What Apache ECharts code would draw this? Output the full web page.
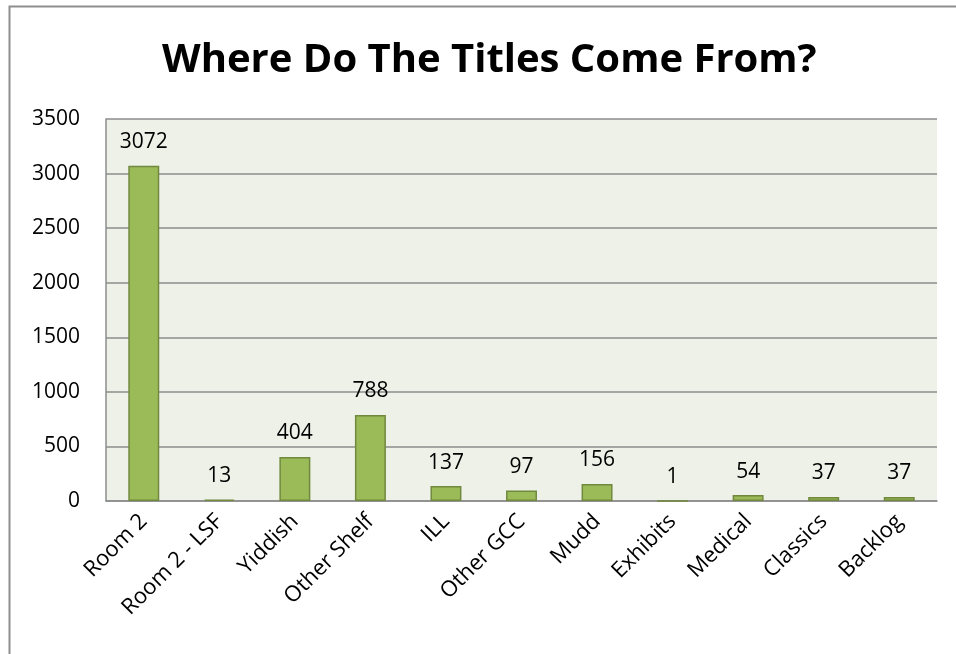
<!DOCTYPE html>
<html>
<head>
<meta charset="utf-8">
<script src="https://cdn.jsdelivr.net/npm/echarts@6/dist/echarts.min.js"></script>
<style>
  html, body { margin: 0; padding: 0; background: #ffffff; }
  #chart { width: 956px; height: 654px; }
</style>
</head>
<body>
<div id="chart"></div>
<script>
const titleText = 'Where Do The Titles Come From?';
const categories = ['Room 2', 'Room 2 - LSF', 'Yiddish', 'Other Shelf', 'ILL', 'Other GCC', 'Mudd', 'Exhibits', 'Medical', 'Classics', 'Backlog'];
const values = [3072, 13, 404, 788, 137, 97, 156, 1, 54, 37, 37];
const yMin = 0, yMax = 3500, yStep = 500;

const FONT = 'Open Sans';
const chart = echarts.init(document.getElementById('chart'), null, { renderer: 'canvas' });
chart.setOption({
  animation: false,
  backgroundColor: '#ffffff',
  textStyle: { fontFamily: FONT },
  title: {
    text: titleText,
    left: 157,
    top: 36,
    textStyle: { fontFamily: FONT, fontWeight: 'bold', fontSize: 40, color: '#000000' }
  },
  graphic: [{
    type: 'rect',
    shape: { x: 9.5, y: 6.5, width: 1000, height: 700 },
    style: { fill: 'none', stroke: '#8e8e8e', lineWidth: 2 },
    silent: true
  }],
  grid: {
    left: 106, right: 19, top: 119, bottom: 153,
    show: true, backgroundColor: '#EEF1E7', borderWidth: 0
  },
  xAxis: {
    type: 'category',
    data: categories,
    axisLine: { show: true, lineStyle: { color: '#8c8c8c', width: 1.5 } },
    axisTick: { show: false },
    axisLabel: { rotate: 45, fontSize: 22, color: '#000000', margin: 17, interval: 0, fontFamily: FONT }
  },
  yAxis: {
    type: 'value',
    min: yMin, max: yMax, interval: yStep,
    axisLine: { show: true, lineStyle: { color: '#8c8c8c', width: 1.5 } },
    axisTick: { show: false },
    splitLine: { show: true, lineStyle: { color: '#8c8c8c', width: 1.5 } },
    axisLabel: { fontSize: 21, color: '#000000', margin: 26, fontFamily: FONT, formatter: v => String(v) }
  },
  series: [{
    type: 'bar',
    data: values,
    barCategoryGap: '59%',
    itemStyle: { color: '#9BBB59', borderColor: '#71893F', borderWidth: 1.5 },
    label: { show: true, position: 'top', distance: 13, fontSize: 21, color: '#000000', fontFamily: FONT }
  }]
});
</script>
</body>
</html>
